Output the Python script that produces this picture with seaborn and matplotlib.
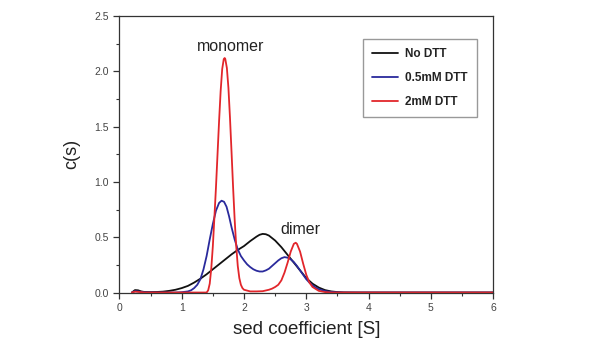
import numpy as np
import pandas as pd
import seaborn as sns
import matplotlib.pyplot as plt
from matplotlib.ticker import MultipleLocator, FormatStrFormatter

# values
black_x = [0.2, 0.25, 0.3, 0.35, 0.4, 0.5, 0.6, 0.7, 0.8, 0.9, 1.0, 1.1, 1.2, 1.3, 1.4,
           1.5, 1.6, 1.7, 1.8, 1.9, 2.0, 2.1, 2.2, 2.25, 2.3, 2.35, 2.4, 2.5, 2.6, 2.7,
           2.8, 2.9, 3.0, 3.1, 3.2, 3.3, 3.4, 3.5, 3.6, 3.8, 4.0, 5.0, 6.0]
black_y = [0.0, 0.022, 0.02, 0.01, 0.005, 0.004, 0.005, 0.008, 0.015, 0.025, 0.04, 0.06,
           0.09, 0.125, 0.165, 0.21, 0.255, 0.30, 0.345, 0.385, 0.42, 0.465, 0.505, 0.522,
           0.53, 0.527, 0.515, 0.47, 0.41, 0.34, 0.27, 0.20, 0.13, 0.08, 0.045, 0.022,
           0.01, 0.004, 0.001, 0.0, 0.0, 0.0, 0.0]

blue_x = [0.2, 0.25, 0.3, 0.4, 0.6, 0.9, 1.0, 1.1, 1.15, 1.2, 1.25, 1.3, 1.35, 1.4, 1.45,
          1.5, 1.55, 1.6, 1.64, 1.68, 1.72, 1.76, 1.8, 1.85, 1.9, 1.95, 2.0, 2.05, 2.1,
          2.15, 2.2, 2.25, 2.3, 2.35, 2.4, 2.45, 2.5, 2.55, 2.6, 2.65, 2.7, 2.75, 2.8,
          2.85, 2.9, 2.95, 3.0, 3.05, 3.1, 3.15, 3.2, 3.3, 3.4, 3.5, 3.6, 4.0, 6.0]
blue_y = [0.0, 0.012, 0.01, 0.002, 0.0, 0.0, 0.003, 0.01, 0.02, 0.04, 0.07, 0.12, 0.21,
          0.33, 0.48, 0.62, 0.74, 0.81, 0.83, 0.82, 0.775, 0.69, 0.59, 0.48, 0.39, 0.33,
          0.29, 0.255, 0.23, 0.21, 0.197, 0.19, 0.19, 0.2, 0.215, 0.24, 0.265, 0.29,
          0.31, 0.32, 0.315, 0.3, 0.275, 0.24, 0.2, 0.16, 0.12, 0.09, 0.065, 0.045,
          0.03, 0.013, 0.005, 0.002, 0.0, 0.0, 0.0]

red_x = [0.2, 0.25, 0.3, 0.4, 1.0, 1.4, 1.425, 1.45, 1.475, 1.5, 1.525, 1.55, 1.575, 1.6,
         1.625, 1.65, 1.675, 1.69, 1.7, 1.725, 1.75, 1.775, 1.8, 1.825, 1.85, 1.875, 1.9,
         1.925, 1.95, 1.975, 2.0, 2.1, 2.2, 2.3, 2.4, 2.45, 2.5, 2.55, 2.6, 2.65, 2.7,
         2.75, 2.8, 2.83, 2.85, 2.9, 2.95, 3.0, 3.05, 3.1, 3.2, 3.3, 3.4, 4.0, 6.0]
red_y = [0.0, 0.008, 0.006, 0.0, 0.0, 0.0, 0.02, 0.08, 0.22, 0.42, 0.68, 0.95, 1.25, 1.55,
         1.82, 2.02, 2.11, 2.12, 2.11, 2.03, 1.85, 1.58, 1.27, 0.95, 0.66, 0.42, 0.24,
         0.13, 0.07, 0.04, 0.025, 0.01, 0.01, 0.012, 0.025, 0.035, 0.05, 0.07, 0.11,
         0.18, 0.27, 0.37, 0.44, 0.45, 0.44, 0.37, 0.26, 0.16, 0.09, 0.05, 0.015, 0.004,
         0.0, 0.0, 0.0]

labels = ["No DTT", "0.5mM DTT", "2mM DTT"]
colors = ["#111111", "#2a2a9c", "#e2262b"]

df = pd.concat([
    pd.DataFrame({"s": black_x, "c": black_y, "sample": labels[0]}),
    pd.DataFrame({"s": blue_x, "c": blue_y, "sample": labels[1]}),
    pd.DataFrame({"s": red_x, "c": red_y, "sample": labels[2]}),
])

sns.set_style("ticks")
plt.rcParams['font.family'] = ['Liberation Sans', 'DejaVu Sans']

fig = plt.figure(figsize=(6, 3.55), dpi=100)
ax = fig.add_axes([0.199, 0.176, 0.623, 0.779])

sns.lineplot(data=df, x="s", y="c", hue="sample", palette=dict(zip(labels, colors)),
             estimator=None, sort=True, linewidth=1.3, ax=ax)

ax.set_xlim(0, 6)
ax.set_ylim(0, 2.5)
ax.xaxis.set_major_locator(MultipleLocator(1))
ax.xaxis.set_minor_locator(MultipleLocator(0.5))
ax.yaxis.set_major_locator(MultipleLocator(0.5))
ax.yaxis.set_minor_locator(MultipleLocator(0.25))
ax.xaxis.set_major_formatter(FormatStrFormatter('%d'))
ax.yaxis.set_major_formatter(FormatStrFormatter('%.1f'))
ax.tick_params(which='major', length=4, width=0.9, color='#333333', labelsize=7.5,
               labelcolor='#444444', direction='out')
ax.tick_params(which='minor', length=2.5, width=0.8, color='#333333', direction='out')
for sp in ax.spines.values():
    sp.set_visible(True)
    sp.set_color('#333333')
    sp.set_linewidth(0.9)

ax.set_xlabel("sed coefficient [S]", fontsize=13.5, color='#222222', labelpad=6)
ax.set_ylabel("c(s)", fontsize=13, color='#222222', labelpad=10)

ax.text(1.78, 2.22, "monomer", fontsize=11.5, ha='center', va='center', color='#222222')
ax.text(2.9, 0.57, "dimer", fontsize=11.5, ha='center', va='center', color='#222222')

leg = ax.legend(loc='upper right', bbox_to_anchor=(0.957, 0.917), borderaxespad=0,
                fontsize=8.5, frameon=True, fancybox=False, framealpha=1,
                edgecolor='#999999', handlelength=2.2, handletextpad=0.6,
                labelspacing=1.0, borderpad=0.8, title=None)
for t in leg.get_texts():
    t.set_fontweight('bold')
    t.set_color('#222222')
leg.get_frame().set_linewidth(1.0)

plt.savefig("out.png", dpi=100)
